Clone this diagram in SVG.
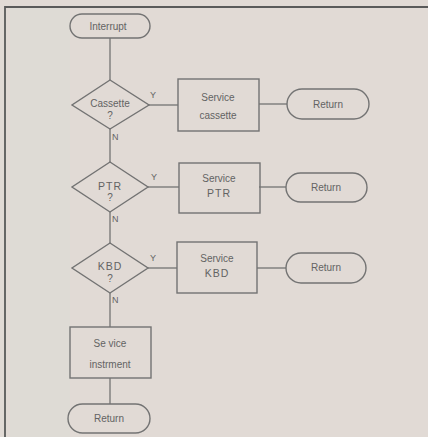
<svg xmlns="http://www.w3.org/2000/svg" width="428" height="437" viewBox="0 0 428 437">
<style>
.bg{fill:#e1dad5}
.frame{stroke:#5a5a5a;stroke-width:1.8;fill:none}
.shape{fill:none;stroke:#737373;stroke-width:1.4}
.conn{stroke:#737373;stroke-width:1.3;fill:none}
text{font-family:"Liberation Sans",Arial,sans-serif;fill:#636363;text-anchor:middle}
.t{font-size:10px}
.b{font-size:10.5px;letter-spacing:1px}
.lbl{font-size:9px;text-anchor:start}
</style>
<rect class="bg" x="0" y="0" width="428" height="437"/>
<rect x="10" y="8" width="60" height="429" fill="#d9dbd5" opacity="0.4"/>
<path class="frame" d="M5,437 V7 H428"/>

<g id="connectors">
<line class="conn" x1="110" y1="38" x2="110" y2="80"/>
<line class="conn" x1="148" y1="105" x2="178" y2="105"/>
<line class="conn" x1="259" y1="104" x2="287" y2="104"/>
<line class="conn" x1="110" y1="129" x2="110" y2="162"/>
<line class="conn" x1="148" y1="187" x2="179" y2="187"/>
<line class="conn" x1="259" y1="187" x2="286" y2="187"/>
<line class="conn" x1="110" y1="212" x2="110" y2="243"/>
<line class="conn" x1="148" y1="268" x2="177" y2="268"/>
<line class="conn" x1="257" y1="268" x2="286" y2="268"/>
<line class="conn" x1="110" y1="293" x2="110" y2="327"/>
<line class="conn" x1="110" y1="378" x2="110" y2="404"/>
<text class="lbl" x="150" y="98">Y</text>
<text class="lbl" x="112" y="140">N</text>
<text class="lbl" x="151" y="180">Y</text>
<text class="lbl" x="112" y="222">N</text>
<text class="lbl" x="150" y="261">Y</text>
<text class="lbl" x="112" y="303">N</text>
</g>

<g id="interrupt">
<rect class="shape" x="70" y="14" width="80" height="24" rx="12"/>
<text class="t" x="108" y="30">Interrupt</text>
</g>

<g id="cassette-q">
<polygon class="shape" points="110,80 149,105 110,129 72,105"/>
<text class="t" x="110" y="107">Cassette</text>
<text class="t" x="110" y="119">?</text>
</g>
<g id="service-cassette">
<rect class="shape" x="178" y="79" width="81" height="52"/>
<text class="t" x="218" y="101">Service</text>
<text class="t" x="218" y="119">cassette</text>
</g>
<g id="return-cassette">
<rect class="shape" x="287" y="89" width="82" height="30" rx="15"/>
<text class="t" x="328" y="108">Return</text>
</g>

<g id="ptr-q">
<polygon class="shape" points="110,162 148,187 110,212 72,187"/>
<text class="b" x="110" y="190">PTR</text>
<text class="t" x="110" y="201">?</text>
</g>
<g id="service-ptr">
<rect class="shape" x="179" y="163" width="81" height="50"/>
<text class="t" x="219" y="182">Service</text>
<text class="b" x="219" y="197">PTR</text>
</g>
<g id="return-ptr">
<rect class="shape" x="286" y="173" width="81" height="29" rx="14.5"/>
<text class="t" x="326" y="191">Return</text>
</g>

<g id="kbd-q">
<polygon class="shape" points="110,243 148,268 110,293 72,268"/>
<text class="b" x="110" y="270">KBD</text>
<text class="t" x="110" y="282">?</text>
</g>
<g id="service-kbd">
<rect class="shape" x="177" y="242" width="80" height="51"/>
<text class="t" x="217" y="262">Service</text>
<text class="b" x="217" y="277">KBD</text>
</g>
<g id="return-kbd">
<rect class="shape" x="286" y="253" width="80" height="30" rx="15"/>
<text class="t" x="326" y="271">Return</text>
</g>

<g id="service-instrument">
<rect class="shape" x="70" y="327" width="81" height="51"/>
<text class="t" x="110" y="347">Se vice</text>
<text class="t" x="110" y="368">instrment</text>
</g>
<g id="return-main">
<rect class="shape" x="68" y="404" width="82" height="29" rx="14.5"/>
<text class="t" x="109" y="422">Return</text>
</g>
</svg>
